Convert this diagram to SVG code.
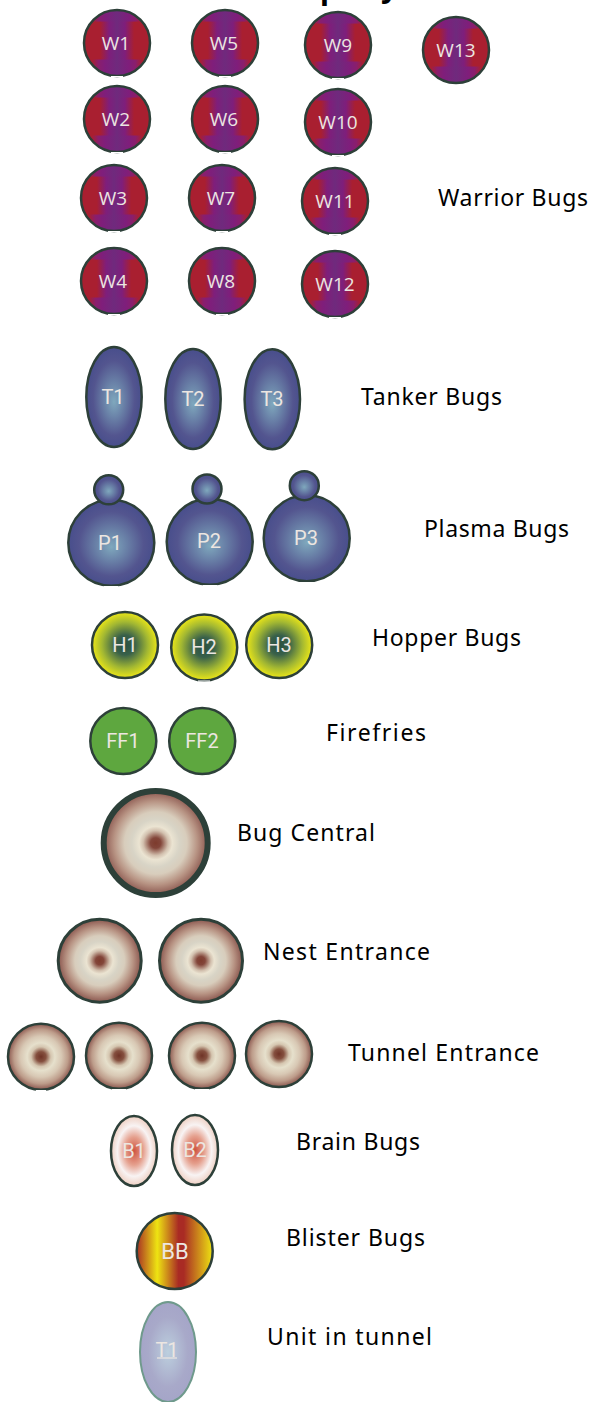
<svg xmlns="http://www.w3.org/2000/svg" width="596" height="1402" viewBox="0 0 596 1402">
<style>
.n{stroke:#2d4039;stroke-width:2.5}
.l{font-family:Roboto,"Noto Sans",sans-serif;font-size:20px;fill:#ece6e1;text-anchor:middle}
.lw{font-family:"Open Sans","Noto Sans",sans-serif;font-size:19px;fill:#ece6e1;text-anchor:middle}
.t{font-family:"Noto Sans",sans-serif;font-size:23px;fill:#000}
.top{font-family:"Noto Sans",sans-serif;font-weight:bold;font-size:30px;fill:#000}
.w{fill:url(#pw)}
.tk{fill:url(#gb)}
.h{fill:url(#gh)}
.ff{fill:#5ea73f}
.e{fill:url(#ge)}
.te{fill:url(#gt)}
.br{fill:url(#gbr)}
.k{stroke:#fff;stroke-width:1;fill:none}
</style>
<defs>
<linearGradient id="gw1"><stop offset="0.12" stop-color="#a91f30"/><stop offset="0.22" stop-color="#8a1e6c"/><stop offset="0.32" stop-color="#7f1e7b"/><stop offset="0.5" stop-color="#6f2a7d"/><stop offset="0.68" stop-color="#7f1e7b"/><stop offset="0.78" stop-color="#8a1e6c"/><stop offset="0.88" stop-color="#a91f30"/></linearGradient>
<linearGradient id="gw2"><stop offset="0.24" stop-color="#a91f30"/><stop offset="0.38" stop-color="#7f1e7b"/><stop offset="0.5" stop-color="#6f2a7d"/><stop offset="0.62" stop-color="#7f1e7b"/><stop offset="0.76" stop-color="#a91f30"/></linearGradient>
<pattern id="pw" width="1" height="1" patternContentUnits="objectBoundingBox"><rect width="1" height="1" fill="url(#gw1)"/><rect y="0.175" width="1" height="0.575" fill="url(#gw2)"/></pattern>
<radialGradient id="gb" fy="0.55"><stop offset="0" stop-color="#7fa8bd"/><stop offset="0.35" stop-color="#6a82a8"/><stop offset="0.75" stop-color="#53558f"/><stop offset="1" stop-color="#484e8c"/></radialGradient>
<radialGradient id="gh"><stop offset="0" stop-color="#2a5040"/><stop offset="0.3" stop-color="#38604a"/><stop offset="0.7" stop-color="#a3b832"/><stop offset="1" stop-color="#ece717"/></radialGradient>
<radialGradient id="ge"><stop offset="0" stop-color="#7d3b2d"/><stop offset="0.1" stop-color="#83463a"/><stop offset="0.24" stop-color="#d2c0ae"/><stop offset="0.32" stop-color="#ebe4d2"/><stop offset="0.46" stop-color="#d8d4c6"/><stop offset="0.6" stop-color="#d8cdbc"/><stop offset="0.8" stop-color="#b89484"/><stop offset="1" stop-color="#8a564e"/></radialGradient>
<radialGradient id="gt"><stop offset="0" stop-color="#6f3326"/><stop offset="0.15" stop-color="#85503f"/><stop offset="0.3" stop-color="#d5c6b0"/><stop offset="0.42" stop-color="#e6e0cc"/><stop offset="0.62" stop-color="#d8c8b4"/><stop offset="0.82" stop-color="#bd9c8a"/><stop offset="1" stop-color="#8a564e"/></radialGradient>
<radialGradient id="gbr"><stop offset="0" stop-color="#cf5340"/><stop offset="0.4" stop-color="#e5a08e"/><stop offset="0.72" stop-color="#f8f3f3"/><stop offset="1" stop-color="#eecfc2"/></radialGradient>
<linearGradient id="gbb"><stop offset="0" stop-color="#a82f24"/><stop offset="0.27" stop-color="#eee412"/><stop offset="0.55" stop-color="#a92b24"/><stop offset="0.62" stop-color="#a92b24"/><stop offset="1" stop-color="#eee412"/></linearGradient>
<radialGradient id="gu"><stop offset="0" stop-color="#bccfde"/><stop offset="0.7" stop-color="#a8a9c9"/><stop offset="1" stop-color="#a5a5c8"/></radialGradient>
</defs>
<text class="top" x="320" y="-1">p</text>
<text class="top" x="381" y="-3">y</text>
<g id="connectors"/>
<g id="W1"><circle class="n w" cx="117" cy="43" r="33"/><text class="lw" x="116" y="50">W1</text><path class="k" d="M111 76.500h12"/></g>
<g id="W5"><circle class="n w" cx="225" cy="43" r="33"/><text class="lw" x="224" y="50">W5</text><path class="k" d="M219 76.500h12"/></g>
<g id="W9"><circle class="n w" cx="338" cy="45" r="33"/><text class="lw" x="338" y="52">W9</text><path class="k" d="M332 78.500h12"/></g>
<g id="W13"><circle class="n w" cx="456" cy="50" r="33"/><text class="lw" x="456" y="57">W13</text></g>
<g id="W2"><circle class="n w" cx="117" cy="119" r="33"/><text class="lw" x="116" y="126">W2</text><path class="k" d="M111 152.500h12"/></g>
<g id="W6"><circle class="n w" cx="225" cy="119" r="33"/><text class="lw" x="224" y="126">W6</text><path class="k" d="M219 152.500h12"/></g>
<g id="W10"><circle class="n w" cx="338" cy="122" r="33"/><text class="lw" x="338" y="129">W10</text><path class="k" d="M332 155.500h12"/></g>
<g id="W3"><circle class="n w" cx="114" cy="198" r="33"/><text class="lw" x="113" y="205">W3</text><path class="k" d="M108 231.500h12"/></g>
<g id="W7"><circle class="n w" cx="222" cy="198" r="33"/><text class="lw" x="221" y="205">W7</text><path class="k" d="M216 231.500h12"/></g>
<g id="W11"><circle class="n w" cx="335" cy="201" r="33"/><text class="lw" x="335" y="208">W11</text><path class="k" d="M329 234.500h12"/></g>
<g id="W4"><circle class="n w" cx="114" cy="281" r="33"/><text class="lw" x="113" y="288">W4</text><path class="k" d="M108 314.500h12"/></g>
<g id="W8"><circle class="n w" cx="222" cy="281" r="33"/><text class="lw" x="221" y="288">W8</text><path class="k" d="M216 314.500h12"/></g>
<g id="W12"><circle class="n w" cx="335" cy="284" r="33"/><text class="lw" x="335" y="291">W12</text><path class="k" d="M329 317.500h12"/></g>
<g id="T1"><ellipse class="n tk" cx="114" cy="397" rx="27.7" ry="50"/><text class="l" x="113" y="404">T1</text></g>
<g id="T2"><ellipse class="n tk" cx="193" cy="399" rx="27.7" ry="50"/><text class="l" x="193" y="406">T2</text></g>
<g id="T3"><ellipse class="n tk" cx="272.3" cy="399.3" rx="27.7" ry="50"/><text class="l" x="272" y="406">T3</text></g>
<g id="P1"><circle class="n tk" cx="111.3" cy="542.8" r="43"/><circle class="n tk" cx="108.7" cy="489.8" r="14.5"/><text class="l" x="110" y="550">P1</text><path class="k" d="M104 586.500h14"/></g>
<g id="P2"><circle class="n tk" cx="209.7" cy="541.7" r="43"/><circle class="n tk" cx="207" cy="489" r="14.5"/><text class="l" x="209" y="548">P2</text><path class="k" d="M203 585.500h14"/></g>
<g id="P3"><circle class="n tk" cx="306.7" cy="538.3" r="43"/><circle class="n tk" cx="304.3" cy="485.7" r="14.5"/><text class="l" x="306" y="545">P3</text><path class="k" d="M300 582.500h14"/></g>
<g id="H1"><circle class="n h" cx="125" cy="645" r="33"/><text class="l" x="125" y="652">H1</text></g>
<g id="H2"><circle class="n h" cx="204.2" cy="647.5" r="33"/><text class="l" x="204" y="654">H2</text><path class="k" d="M198 681h12"/></g>
<g id="H3"><circle class="n h" cx="279.2" cy="645" r="33"/><text class="l" x="279" y="652">H3</text></g>
<g id="FF1"><circle class="n ff" cx="123.3" cy="741" r="33"/><text class="l" x="123" y="748">FF1</text></g>
<g id="FF2"><circle class="n ff" cx="202.2" cy="741" r="33"/><text class="l" x="202" y="748">FF2</text></g>
<g id="BugCentral"><circle class="e" cx="155.7" cy="843" r="52" stroke="#2d4039" stroke-width="6"/></g>
<g id="Nest1"><circle class="e" cx="99.7" cy="960.7" r="41.5" stroke="#2d4039" stroke-width="3"/></g>
<g id="Nest2"><circle class="e" cx="201" cy="960.7" r="41.5" stroke="#2d4039" stroke-width="3"/></g>
<g id="Tunnel1"><circle class="n te" cx="41" cy="1056.7" r="33"/><path class="k" d="M36 1090.500h10"/></g>
<g id="Tunnel2"><circle class="n te" cx="119" cy="1055.7" r="33"/><path class="k" d="M112 1089.500h14"/></g>
<g id="Tunnel3"><circle class="n te" cx="202" cy="1055.7" r="33"/><path class="k" d="M195 1089.500h14"/></g>
<g id="Tunnel4"><circle class="n te" cx="279" cy="1054" r="33"/></g>
<g id="B1"><ellipse class="n br" cx="134" cy="1151" rx="23" ry="35"/><text class="l" x="134" y="1158">B1</text></g>
<g id="B2"><ellipse class="n br" cx="195" cy="1150" rx="23" ry="35"/><text class="l" x="195" y="1157">B2</text></g>
<g id="BB"><circle class="n" fill="url(#gbb)" cx="174.7" cy="1251" r="38"/><text class="l" x="175" y="1259" style="font-size:22px">BB</text></g>
<g id="Unit"><ellipse cx="168" cy="1352" rx="28" ry="50" fill="url(#gu)" stroke="#6f9a8c" stroke-width="2"/><text class="l" x="167" y="1357">T1</text><path d="M157 1358h20" stroke="#ece6e1" stroke-width="1.2" fill="none"/></g>
<g id="labels">
<text class="t" x="438" y="206" textLength="150">Warrior Bugs</text>
<text class="t" x="361" y="405" textLength="141">Tanker Bugs</text>
<text class="t" x="424" y="537" textLength="145">Plasma Bugs</text>
<text class="t" x="372" y="646" textLength="149">Hopper Bugs</text>
<text class="t" x="326" y="741" textLength="100">Firefries</text>
<text class="t" x="237" y="841" textLength="138">Bug Central</text>
<text class="t" x="263" y="960" textLength="167">Nest Entrance</text>
<text class="t" x="348" y="1061" textLength="191">Tunnel Entrance</text>
<text class="t" x="296" y="1150" textLength="124">Brain Bugs</text>
<text class="t" x="286" y="1246" textLength="139">Blister Bugs</text>
<text class="t" x="267" y="1345" textLength="165">Unit in tunnel</text>
</g>
</svg>
